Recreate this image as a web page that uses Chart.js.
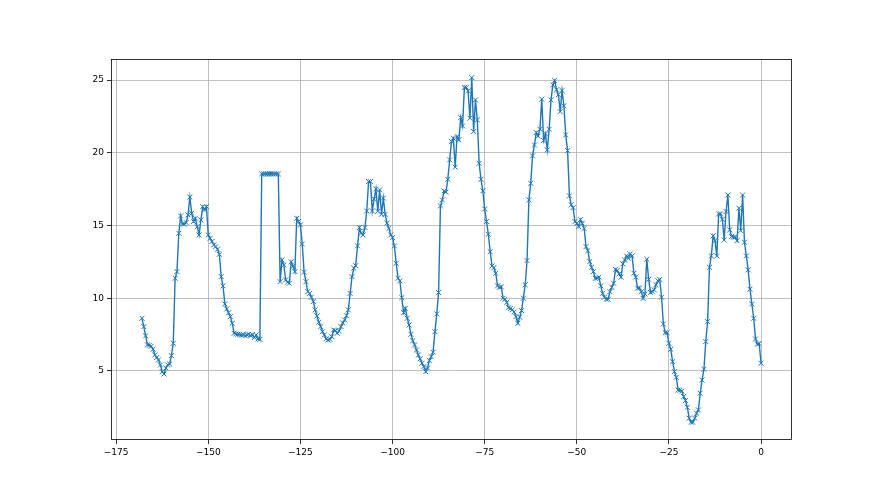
<!DOCTYPE html>
<html>
<head>
<meta charset="utf-8">
<script src="https://cdn.jsdelivr.net/npm/chart.js@4"></script>
<style>
  html, body { margin: 0; padding: 0; background: #fff; }
  canvas { display: block; }
</style>
</head>
<body>
<canvas id="myChart" width="880" height="495"></canvas>
<script>
// half-hourly readings, from -168 h up to 0 h
const startHour = -168;
const stepHours = 0.5;

const values = [
  8.62, 8.05, 7.41, 6.79, 6.76, 6.7, 6.49, 6.1, 5.92, 5.76,
  5.41, 4.95, 4.79, 5.2, 5.41, 5.48, 6.05, 6.9, 11.37, 11.83,
  14.47, 15.66, 15.1, 15.1, 15.2, 15.73, 16.95, 15.84, 15.27, 15.5,
  14.92, 14.35, 15.39, 16.3, 16.07, 16.3, 14.35, 14.12, 13.9, 13.67,
  13.55, 13.37, 13.02, 11.49, 10.85, 9.61, 9.26, 9.0, 8.73, 8.28,
  7.59, 7.55, 7.52, 7.5, 7.46, 7.5, 7.42, 7.48, 7.52, 7.42,
  7.5, 7.3, 7.48, 7.2, 7.17, 18.55, 18.55, 18.55, 18.55, 18.55,
  18.55, 18.55, 18.55, 18.55, 18.55, 11.14, 12.63, 12.29, 11.26, 11.1,
  11.03, 12.5, 12.2, 11.83, 15.5, 15.27, 15.04, 13.73, 11.79, 11.14,
  10.45, 10.33, 10.07, 9.77, 9.2, 8.78, 8.35, 8.05, 7.7, 7.48,
  7.2, 7.13, 7.17, 7.36, 7.82, 7.77, 7.59, 7.75, 8.05, 8.3,
  8.51, 8.8, 9.2, 10.33, 11.49, 12.06, 12.24, 13.6, 14.86, 14.47,
  14.35, 14.86, 16.0, 18.02, 18.02, 16.0, 16.83, 17.52, 15.98, 17.45,
  15.77, 16.88, 15.77, 15.16, 14.8, 14.35, 14.17, 13.6, 12.4, 11.37,
  11.19, 10.04, 9.01, 9.31, 8.62, 8.16, 7.52, 7.08, 6.79, 6.44,
  6.1, 5.83, 5.53, 5.3, 4.95, 5.2, 5.71, 5.98, 6.29, 7.7,
  8.92, 10.39, 16.35, 16.76, 17.38, 17.3, 18.18, 19.51, 20.77, 21.0,
  19.01, 21.11, 20.9, 22.42, 21.85, 24.49, 24.49, 24.26, 22.38, 25.17,
  21.46, 23.64, 22.26, 19.28, 18.18, 17.38, 16.14, 15.27, 14.4, 13.2,
  12.22, 12.1, 11.72, 10.85, 10.75, 10.78, 10.0, 9.92, 9.72, 9.35,
  9.3, 9.2, 9.05, 8.73, 8.28, 8.7, 9.15, 10.0, 10.92, 12.59,
  16.76, 17.9, 19.79, 20.54, 21.39, 21.15, 21.62, 23.69, 20.85, 21.3,
  20.2, 21.62, 23.64, 24.67, 24.97, 24.33, 24.0, 22.83, 24.28, 23.23,
  21.23, 20.15, 17.04, 16.42, 16.23, 15.27, 15.15, 14.92, 15.4, 15.15,
  14.8, 13.55, 13.27, 12.52, 12.13, 11.83, 11.37, 11.37, 11.45, 10.85,
  10.34, 10.07, 9.93, 9.93, 10.45, 10.75, 11.03, 11.99, 11.9, 11.67,
  11.45, 12.36, 12.63, 12.91, 12.75, 13.05, 12.91, 11.72, 11.45, 10.69,
  10.7, 10.45, 9.99, 10.3, 12.68, 11.3, 10.4, 10.45, 10.57, 10.92,
  11.2, 11.3, 10.07, 8.23, 7.63, 7.63, 6.9, 6.49, 5.64, 4.95,
  4.56, 3.69, 3.67, 3.62, 3.23, 2.96, 2.5, 1.75, 1.47, 1.47,
  1.75, 2.09, 2.32, 3.47, 4.38, 5.12, 7.02, 8.39, 12.13, 12.91,
  14.29, 13.96, 12.91, 15.8, 15.8, 15.43, 14.0, 15.96, 17.1, 14.7,
  14.24, 14.2, 14.2, 13.96, 16.19, 14.65, 17.1, 13.85, 12.91, 11.95,
  10.62, 9.61, 8.62, 7.2, 6.84, 6.88, 5.53
];

const xTicks = [-175, -150, -125, -100, -75, -50, -25, 0];
const yTicks = [5, 10, 15, 20, 25];
const xRange = [-176.4, 8.4];
const yRange = [0.25, 26.45];

const points = values.map((v, i) => ({ x: startHour + i * stepHours, y: v }));

const fmt = (v) => (v < 0 ? '\u2212' + Math.abs(v) : String(v));

// matplotlib-like frame on all four sides
const spines = {
  id: 'spines',
  afterDraw(chart) {
    const { ctx, chartArea: a } = chart;
    ctx.save();
    ctx.strokeStyle = '#000';
    ctx.lineWidth = 0.8;
    ctx.strokeRect(a.left + 0.5, a.top + 0.5, a.right - a.left - 1, a.bottom - a.top - 1);
    ctx.restore();
  }
};

const tickFont = { family: 'DejaVu Sans', size: 9 };

const ctx = document.getElementById('myChart').getContext('2d');

const myLineChart = new Chart(ctx, {
  type: 'line',
  data: {
    datasets: [{
      data: points,
      borderColor: '#1f77b4',
      borderWidth: 1.4,
      tension: 0,
      fill: false,
      pointStyle: 'crossRot',
      pointRadius: 3.5,
      pointBorderWidth: 1,
      pointBorderColor: '#1f77b4',
      pointBackgroundColor: '#1f77b4'
    }]
  },
  options: {
    responsive: false,
    animation: false,
    devicePixelRatio: 1,
    layout: { padding: { left: 0, right: 88, top: 59, bottom: 0 } },
    plugins: { legend: { display: false }, tooltip: { enabled: false } },
    scales: {
      x: {
        type: 'linear',
        min: xRange[0],
        max: xRange[1],
        afterBuildTicks: (axis) => { axis.ticks = xTicks.map(v => ({ value: v })); },
        afterFit: (scale) => { scale.height = 55; },
        grid: { color: '#b0b0b0', lineWidth: 0.8, tickColor: '#000', tickLength: 4 },
        border: { display: false },
        ticks: { color: '#000', font: tickFont, padding: 3, maxRotation: 0, callback: fmt }
      },
      y: {
        type: 'linear',
        min: yRange[0],
        max: yRange[1],
        afterBuildTicks: (axis) => { axis.ticks = yTicks.map(v => ({ value: v })); },
        afterFit: (scale) => { scale.width = 111; },
        grid: { color: '#b0b0b0', lineWidth: 0.8, tickColor: '#000', tickLength: 4 },
        border: { display: false },
        ticks: { color: '#000', font: tickFont, padding: 3, callback: fmt }
      }
    }
  },
  plugins: [spines]
});
</script>
</body>
</html>
